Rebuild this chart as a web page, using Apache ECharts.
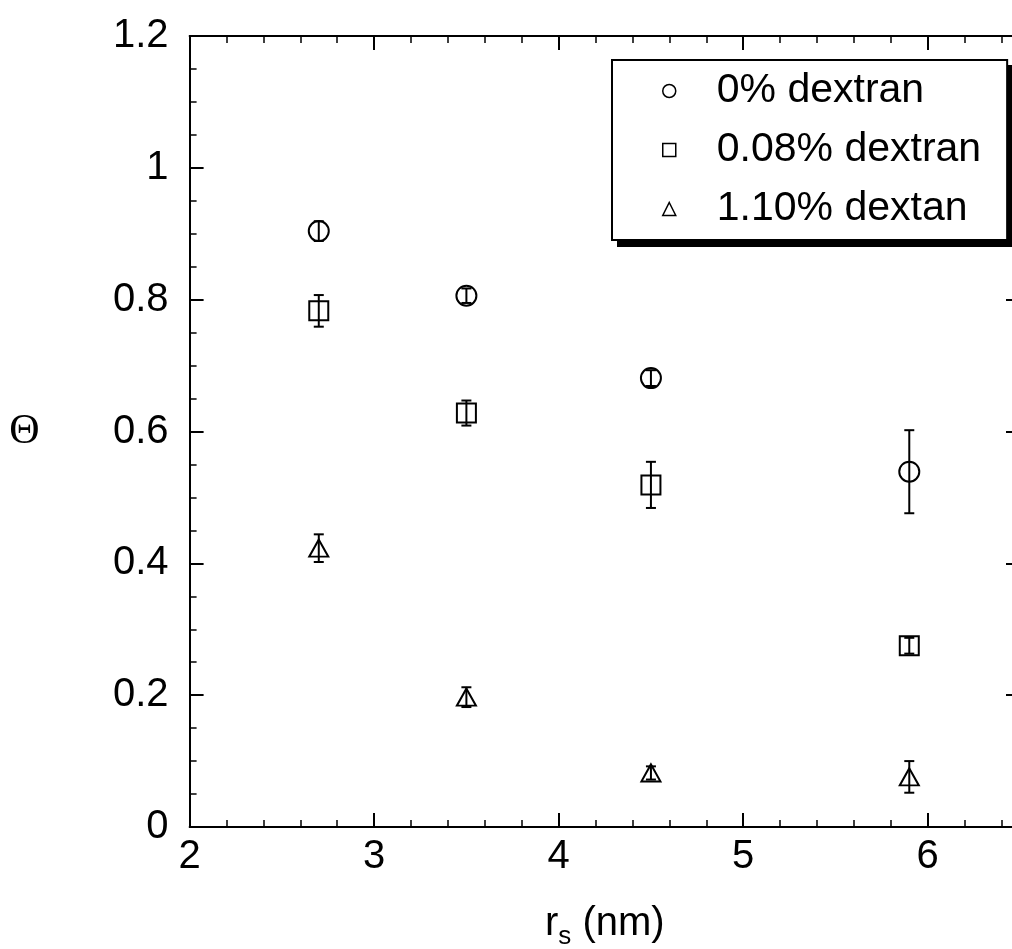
<!DOCTYPE html>
<html>
<head>
<meta charset="utf-8">
<script src="https://cdn.jsdelivr.net/npm/echarts@6/dist/echarts.min.js"></script>
<style>
html,body{margin:0;padding:0;background:#fff;}
#chart{width:1012px;height:949px;}
</style>
</head>
<body>
<div id="chart"></div>
<script>
// ---- data ----
var radii = [2.7, 3.5, 4.5, 5.9];              // r_s (nm)
var theta0 = [0.904, 0.806, 0.681, 0.539];      // 0% dextran
var err0 = [0.015, 0.011, 0.012, 0.063];
var theta008 = [0.783, 0.628, 0.519, 0.275];    // 0.08% dextran
var err008 = [0.024, 0.019, 0.035, 0.012];
var theta110 = [0.423, 0.197, 0.082, 0.076];    // 1.10% dextan
var err110 = [0.021, 0.015, 0.010, 0.024];
var seriesNames = ['0% dextran', '0.08% dextran', '1.10% dextan'];
var xTicks = [2, 3, 4, 5, 6];
var yTicks = [0, 0.2, 0.4, 0.6, 0.8, 1, 1.2];

var FONT = 'Liberation Sans';

function pts(ys) { return radii.map(function (x, i) { return [x, ys[i]]; }); }
function errPts(ys, es) { return radii.map(function (x, i) { return [x, ys[i] - es[i], ys[i] + es[i]]; }); }

function errRender(params, api) {
  var x = api.value(0);
  var lo = api.coord([x, api.value(1)]);
  var hi = api.coord([x, api.value(2)]);
  var cap = 5;
  var st = { stroke: '#000', lineWidth: 2 };
  return {
    type: 'group',
    children: [
      { type: 'line', shape: { x1: lo[0], y1: lo[1], x2: hi[0], y2: hi[1] }, style: st },
      { type: 'line', shape: { x1: lo[0] - cap, y1: lo[1], x2: lo[0] + cap, y2: lo[1] }, style: st },
      { type: 'line', shape: { x1: hi[0] - cap, y1: hi[1], x2: hi[0] + cap, y2: hi[1] }, style: st }
    ]
  };
}

var markerStyle = { color: '#fff', borderColor: '#000', borderWidth: 2, opacity: 1 };

var axisCommon = {
  axisLine: { show: true, onZero: false, lineStyle: { color: '#000', width: 2 } },
  axisTick: { show: true, inside: true, length: 14, lineStyle: { color: '#000', width: 2 } },
  minorTick: { show: true, length: 7, lineStyle: { color: '#000', width: 1.5 } },
  splitLine: { show: false }
};

var chart = echarts.init(document.getElementById('chart'), null, { renderer: 'canvas' });
chart.setOption({
  animation: false,
  backgroundColor: '#fff',
  grid: { left: 189.6, right: -8, top: 36, bottom: 122, containLabel: false, outerBoundsMode: 'none' },
  xAxis: [
    Object.assign({}, axisCommon, {
      type: 'value', position: 'bottom', min: xTicks[0], max: 6.5, interval: 1,
      minorTick: Object.assign({}, axisCommon.minorTick, { splitNumber: 5 }),
      axisLabel: {
        show: true, margin: 10, color: '#000', fontFamily: FONT, fontSize: 40,
        formatter: function (v) { return xTicks.indexOf(v) >= 0 ? String(v) : ''; }
      },
      name: '{r|r}{s|s}{r| (nm)}', nameLocation: 'middle', nameGap: 77,
      nameTextStyle: {
        rich: {
          r: { fontFamily: FONT, fontSize: 40, color: '#000', verticalAlign: 'top', lineHeight: 40 },
          s: { fontFamily: FONT, fontSize: 26, color: '#000', padding: [26, 0, 0, 0], lineHeight: 40 }
        }
      }
    }),
    Object.assign({}, axisCommon, {
      type: 'value', position: 'top', min: xTicks[0], max: 6.5, interval: 1,
      minorTick: Object.assign({}, axisCommon.minorTick, { splitNumber: 5 }),
      axisLabel: { show: false }
    })
  ],
  yAxis: [
    Object.assign({}, axisCommon, {
      type: 'value', position: 'left', min: yTicks[0], max: 1.2, interval: 0.2,
      minorTick: Object.assign({}, axisCommon.minorTick, { splitNumber: 4 }),
      axisLabel: {
        show: true, margin: 21, color: '#000', fontFamily: FONT, fontSize: 40,
        formatter: function (v) {
          var r = Math.round(v * 10) / 10;
          return yTicks.indexOf(r) >= 0 ? String(r) : '';
        }
      },
      name: 'Θ', nameLocation: 'middle', nameRotate: 0, nameGap: 150,
      nameTextStyle: { fontFamily: 'Liberation Serif', fontSize: 42, color: '#000' }
    }),
    Object.assign({}, axisCommon, {
      type: 'value', position: 'right', min: yTicks[0], max: 1.2, interval: 0.2,
      minorTick: Object.assign({}, axisCommon.minorTick, { splitNumber: 4 }),
      axisLabel: { show: false }
    })
  ],
  graphic: [
    { type: 'rect', z: 5, shape: { x: 617, y: 65, width: 395, height: 182 }, style: { fill: '#000' } }
  ],
  legend: {
    data: seriesNames,
    orient: 'vertical',
    left: 612, top: 60, z: 10,
    padding: [9, 26, 9, 50],
    itemGap: 15,
    itemWidth: 13, itemHeight: 13,
    backgroundColor: '#fff',
    borderColor: '#000', borderWidth: 2, borderRadius: 0,
    textStyle: { fontFamily: FONT, fontSize: 41, color: '#000', lineHeight: 44, padding: [0, 0, 0, 36] },
    itemStyle: { color: '#fff', borderColor: '#000', borderWidth: 1.5 }
  },
  series: [
    { name: seriesNames[0], type: 'scatter', symbol: 'circle', symbolSize: 20, data: pts(theta0), itemStyle: markerStyle, z: 2 },
    { name: seriesNames[1], type: 'scatter', symbol: 'rect', symbolSize: 19, data: pts(theta008), itemStyle: markerStyle, z: 2 },
    { name: seriesNames[2], type: 'scatter', symbol: 'triangle', symbolSize: [19, 17], data: pts(theta110), itemStyle: markerStyle, z: 2 },
    { name: 'err0', type: 'custom', renderItem: errRender, data: errPts(theta0, err0), z: 3, encode: { x: 0, y: [1, 2] } },
    { name: 'err008', type: 'custom', renderItem: errRender, data: errPts(theta008, err008), z: 3, encode: { x: 0, y: [1, 2] } },
    { name: 'err110', type: 'custom', renderItem: errRender, data: errPts(theta110, err110), z: 3, encode: { x: 0, y: [1, 2] } }
  ]
});
</script>
</body>
</html>
